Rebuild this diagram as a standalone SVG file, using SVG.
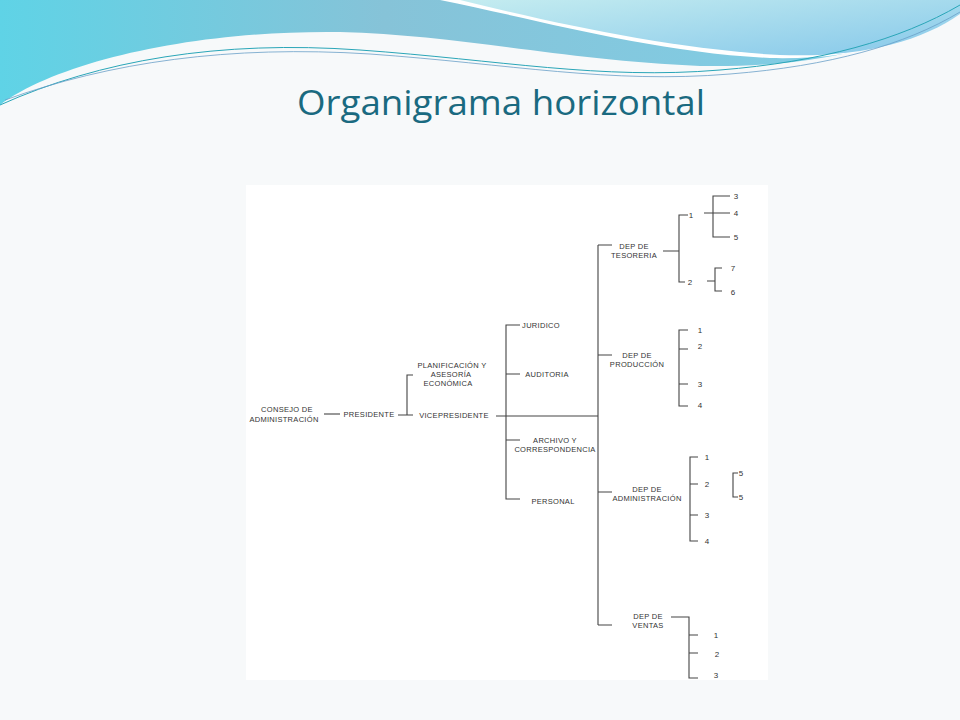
<svg xmlns="http://www.w3.org/2000/svg" width="960" height="720" viewBox="0 0 960 720">
<defs>
<linearGradient id="g1" x1="0" y1="0" x2="1" y2="0"><stop offset="0" stop-color="#5fd3e6"/><stop offset="0.4" stop-color="#86c3d8"/><stop offset="1" stop-color="#7fd0e8"/></linearGradient>
<linearGradient id="g2" x1="0" y1="0" x2="1" y2="1"><stop offset="0" stop-color="#c4ecf0"/><stop offset="1" stop-color="#86c8ea"/></linearGradient>
<style>
.t{font-family:"Liberation Sans",Arial,sans-serif;font-size:7.5px;fill:#333;text-anchor:middle;letter-spacing:0.3px}
.n{font-family:"Liberation Sans",Arial,sans-serif;font-size:8px;fill:#333;text-anchor:middle}
.c path,.c line{stroke:#444;stroke-width:1.1;fill:none}
</style>
</defs>
<rect width="960" height="720" fill="#f7f9fa"/>
<g id="header">
<path d="M0 0H960V10C900 45 820 68 700 66C560 60 460 35 340 32C200 30 60 60 0 105Z" fill="url(#g1)"/>
<path d="M440 0H960V8C920 40 860 60 770 58C650 52 540 20 440 0Z" fill="#ffffff"/>
<path d="M460 0H960V14C920 42 860 58 780 55C680 50 560 25 460 0Z" fill="url(#g2)"/>
<path d="M0 105C100 60 220 40 360 50C500 60 600 80 720 70C820 62 900 40 960 5" stroke="#2aa6b8" stroke-width="1" fill="none"/>
<path d="M5 100C110 62 230 45 370 54C510 64 610 84 730 74C830 66 905 45 960 12" stroke="#6aa0c8" stroke-width="0.8" fill="none"/>
</g>
<rect x="246" y="185" width="522" height="495" fill="#ffffff"/>
<text x="501" y="115" font-family="Open Sans,Liberation Sans,sans-serif" font-size="34" fill="#1a6a80" text-anchor="middle" textLength="408" lengthAdjust="spacingAndGlyphs">Organigrama horizontal</text>
<g class="c" id="connectors">
<line x1="324" y1="414" x2="340" y2="414"/>
<path d="M398 415H407V375H413M407 415H413"/>
<path d="M496 416H598"/>
<path d="M520 325H506V499H520M506 374H520M506 440H520"/>
<path d="M598 245V625M598 245H612M598 355H612M598 492H612M598 625H612"/>
<path d="M663 251H679M688 215H679V282H685"/>
<path d="M704 213H730M730 196H713V237H730"/>
<path d="M707 281H715M722 268H715V291H722"/>
<path d="M688 330H679V406H688M679 349H688M679 384H688"/>
<path d="M698 457H690V541H698M690 484H698M690 515H698"/>
<path d="M738 473H733V497H738"/>
<path d="M671 617H689V678H698M689 635H698M689 653H698"/>
</g>
<g id="consejo"><text class="t" x="287" y="412">CONSEJO DE</text><text class="t" x="284" y="422">ADMINISTRACIÓN</text></g>
<g id="presidente"><text class="t" x="369" y="417">PRESIDENTE</text></g>
<g id="planificacion"><text class="t" x="452" y="368">PLANIFICACIÓN Y</text><text class="t" x="451" y="377">ASESORÍA</text><text class="t" x="448" y="386">ECONÓMICA</text></g>
<g id="vicepresidente"><text class="t" x="454" y="418">VICEPRESIDENTE</text></g>
<g id="juridico"><text class="t" x="541" y="328">JURIDICO</text></g>
<g id="auditoria"><text class="t" x="547" y="377">AUDITORIA</text></g>
<g id="archivo"><text class="t" x="555" y="443">ARCHIVO Y</text><text class="t" x="555" y="452">CORRESPONDENCIA</text></g>
<g id="personal"><text class="t" x="553" y="504">PERSONAL</text></g>
<g id="tesoreria"><text class="t" x="634" y="249">DEP DE</text><text class="t" x="634" y="258">TESORERIA</text>
<text class="n" x="691" y="218">1</text><text class="n" x="690" y="285">2</text>
<text class="n" x="736" y="199">3</text><text class="n" x="736" y="216">4</text><text class="n" x="736" y="240">5</text>
<text class="n" x="733" y="271">7</text><text class="n" x="733" y="295">6</text></g>
<g id="produccion"><text class="t" x="637" y="358">DEP DE</text><text class="t" x="637" y="367">PRODUCCIÓN</text>
<text class="n" x="700" y="333">1</text><text class="n" x="700" y="349">2</text><text class="n" x="700" y="387">3</text><text class="n" x="700" y="408">4</text></g>
<g id="administracion"><text class="t" x="647" y="492">DEP DE</text><text class="t" x="647" y="501">ADMINISTRACIÓN</text>
<text class="n" x="707" y="460">1</text><text class="n" x="707" y="487">2</text><text class="n" x="707" y="518">3</text><text class="n" x="707" y="544">4</text>
<text class="n" x="741" y="476">5</text><text class="n" x="741" y="500">5</text></g>
<g id="ventas"><text class="t" x="648" y="619">DEP DE</text><text class="t" x="648" y="628">VENTAS</text>
<text class="n" x="716" y="638">1</text><text class="n" x="717" y="657">2</text><text class="n" x="716" y="678">3</text></g>
</svg>
